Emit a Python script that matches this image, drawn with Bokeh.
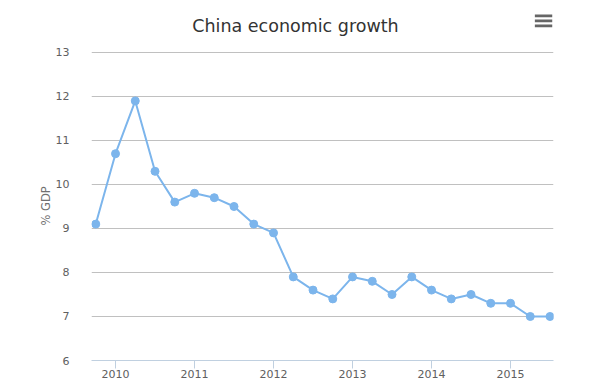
from bokeh.plotting import figure
from bokeh.models import Range1d, FixedTicker, Label, BoxAnnotation, Title
from bokeh.embed import file_html
from bokeh.resources import INLINE

# Quarterly points (fractional year) and GDP growth values
quarters = [2009.75, 2010.0, 2010.25, 2010.5, 2010.75, 2011.0, 2011.25, 2011.5,
            2011.75, 2012.0, 2012.25, 2012.5, 2012.75, 2013.0, 2013.25, 2013.5,
            2013.75, 2014.0, 2014.25, 2014.5, 2014.75, 2015.0, 2015.25, 2015.5]
growth = [9.1, 10.7, 11.9, 10.3, 9.6, 9.8, 9.7, 9.5,
          9.1, 8.9, 7.9, 7.6, 7.4, 7.9, 7.8, 7.5,
          7.9, 7.6, 7.4, 7.5, 7.3, 7.3, 7.0, 7.0]
year_ticks = [2010, 2011, 2012, 2013, 2014, 2015]
y_ticks = [6, 7, 8, 9, 10, 11, 12, 13]

FONT = "DejaVu Sans"

# The plot frame spans the full height so the chart title and menu icon
# (drawn as annotations) are not clipped; grid lines only run from 6 to 13.
p = figure(width=589, height=385, output_backend="svg", toolbar_location=None,
           x_range=Range1d(2009.696, 2015.544), y_range=Range1d(6, 14.1818),
           min_border_left=91, min_border_right=36, min_border_top=0,
           min_border_bottom=25)
p.outline_line_color = None
p.background_fill_color = "white"
p.border_fill_color = "white"

p.xgrid.grid_line_color = None
p.ygrid.grid_line_color = "#C0C0C0"
p.ygrid.grid_line_width = 1

# y axis
p.yaxis.ticker = FixedTicker(ticks=y_ticks)
p.yaxis.axis_line_color = None
p.yaxis.major_tick_line_color = None
p.yaxis.minor_tick_line_color = None
p.yaxis.major_label_standoff = 16
p.yaxis.major_label_text_font = FONT
p.yaxis.major_label_text_font_size = "11px"
p.yaxis.major_label_text_color = "#606060"

# y axis title, positioned along the 6..13 part of the axis
ytitle = Title(text="% GDP", align="left", offset=135, standoff=0,
               text_font=FONT, text_font_size="11.5px",
               text_font_style="normal", text_color="#707070")
p.add_layout(ytitle, "left")

# x axis
p.xaxis.ticker = FixedTicker(ticks=year_ticks)
p.xaxis.axis_line_color = "#C0D0E0"
p.xaxis.major_tick_line_color = "#C0D0E0"
p.xaxis.major_tick_out = 8
p.xaxis.major_tick_in = 0
p.xaxis.minor_tick_line_color = None
p.xaxis.major_label_standoff = 1
p.xaxis.major_label_text_font = FONT
p.xaxis.major_label_text_font_size = "11px"
p.xaxis.major_label_text_color = "#606060"

p.line(quarters, growth, line_color="#7CB5EC", line_width=2)
p.scatter(quarters, growth, size=8, fill_color="#7CB5EC", line_color="#7CB5EC")

# Chart title
title = Label(x=2012.278, y=13.6136,
              text="China economic growth", text_align="center",
              text_baseline="alphabetic", text_font=FONT,
              text_font_size="17.5px", text_color="#333333")
p.add_layout(title)

# Menu (hamburger) icon
for yb, yt in [(13.802, 13.864), (13.689, 13.75), (13.575, 13.636)]:
    p.add_layout(BoxAnnotation(left=2015.308, right=2015.528,
                               bottom=yb, top=yt,
                               fill_color="#666666", fill_alpha=1,
                               line_color=None))

open("out.html", "w").write(file_html(p, INLINE))
